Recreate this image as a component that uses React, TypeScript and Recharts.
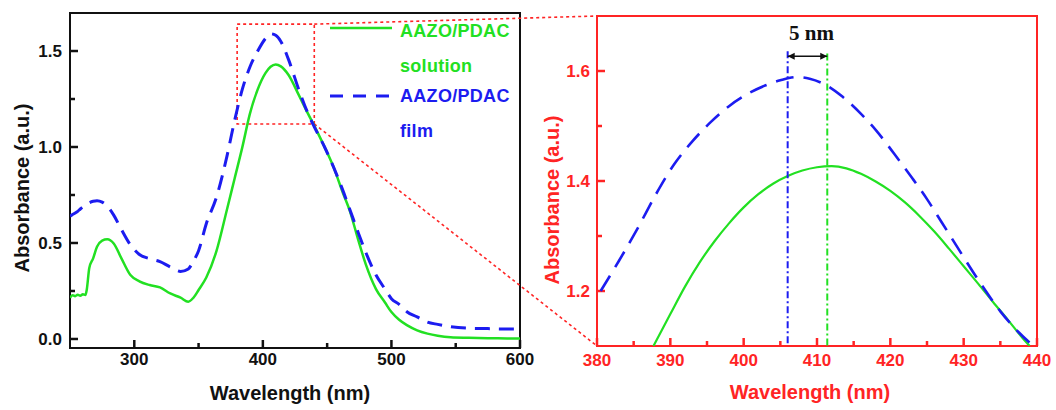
import React from "react";
import { LineChart, Line, XAxis, YAxis, ReferenceArea, ReferenceLine, Legend } from "recharts";

const GREEN = "#22e022";
const BLUE = "#1c1cf0";
const RED = "#ff2424";
const INK = "#111111";
const SANS = '"Liberation Sans", Arial, sans-serif';
const SERIF = '"Liberation Serif", "Times New Roman", serif';

// full spectrum (left panel)
const wavelengths = [
  250, 252, 254, 256, 258, 260, 262, 263, 265, 268,
  271, 275, 279, 284, 290, 297, 304, 312, 320, 328,
  336, 342, 346, 350, 356, 364, 372, 378, 384, 390,
  396, 402, 406, 410, 414, 420, 428, 435, 440, 448,
  455, 462, 468, 474, 480, 488, 495, 500, 506, 512,
  520, 528, 536, 546, 560, 575, 590, 600,
];
const solution = [
  0.215, 0.228, 0.223, 0.231, 0.225, 0.233, 0.229, 0.255, 0.37, 0.42,
  0.48, 0.512, 0.519, 0.497, 0.42, 0.333, 0.3, 0.281, 0.269, 0.237,
  0.215, 0.194, 0.215, 0.255, 0.32, 0.46, 0.672, 0.835, 0.998, 1.175,
  1.3, 1.385, 1.418, 1.43, 1.42, 1.375, 1.27, 1.175, 1.11, 1.0,
  0.895, 0.765, 0.66, 0.52, 0.39, 0.26, 0.19, 0.14, 0.1, 0.072,
  0.045, 0.028, 0.017, 0.009, 0.006, 0.004, 0.003, 0.002,
];
const film = [
  0.64, 0.648, 0.656, 0.665, 0.677, 0.688, 0.697, 0.703, 0.71, 0.717,
  0.72, 0.713, 0.692, 0.645, 0.57, 0.49, 0.44, 0.418, 0.403, 0.375,
  0.352, 0.365, 0.405, 0.46, 0.6, 0.74, 0.95, 1.137, 1.3, 1.418,
  1.5, 1.565, 1.59, 1.582, 1.55, 1.455, 1.298, 1.176, 1.105, 1.0,
  0.895, 0.778, 0.668, 0.557, 0.452, 0.333, 0.26, 0.21, 0.18, 0.142,
  0.115, 0.088, 0.076, 0.064, 0.056, 0.054, 0.052, 0.052,
];

// peak region as drawn in the magnified panel (right)
const zoomSolutionWl = [
  387.7, 390, 392, 394, 396, 398, 400, 402, 404, 406, 408, 410, 412, 414,
  416, 418, 420, 422, 424, 426, 428, 430, 432, 434, 436, 438, 439,
];
const zoomSolution = [
  1.1, 1.158, 1.208, 1.252, 1.29, 1.323, 1.352, 1.376, 1.395, 1.409, 1.419, 1.425, 1.427, 1.423,
  1.413, 1.399, 1.382, 1.361, 1.336, 1.308, 1.277, 1.245, 1.213, 1.18, 1.148, 1.115, 1.1,
];
const zoomFilmWl = [
  380.5, 383, 385.5, 388, 390.5, 393, 395.5, 398, 400.5, 403, 405, 407.3, 409,
  411, 413.5, 416, 418, 420.5, 423, 425, 427, 429.5, 432, 435, 437.5, 439.5,
];
const zoomFilm = [
  1.2, 1.255, 1.313, 1.375, 1.43, 1.472, 1.507, 1.536, 1.558, 1.574, 1.583, 1.589, 1.586,
  1.576, 1.553, 1.522, 1.493, 1.45, 1.405, 1.367, 1.325, 1.272, 1.22, 1.163, 1.125, 1.1,
];

const filmPeak = 406;
const solutionPeak = 411.4;

const seriesNames = ["AAZO/PDAC solution", "AAZO/PDAC film"];

const mainXTicks = [300, 350, 400, 450, 500, 550, 600];
const mainXMajor = [300, 400, 500, 600];
const mainYTicks = [0, 0.25, 0.5, 0.75, 1, 1.25, 1.5];
const mainYMajor = [0, 0.5, 1, 1.5];
const zoomXTicks = [380, 385, 390, 395, 400, 405, 410, 415, 420, 425, 430, 435, 440];
const zoomXMajor = [380, 390, 400, 410, 420, 430, 440];
const zoomYTicks = [1.2, 1.3, 1.4, 1.5, 1.6];
const zoomYMajor = [1.2, 1.4, 1.6];

// region of the left panel that is magnified
const boxX = [380, 440];
const boxY = [1.12, 1.64];

const MAIN_X = [250, 600];
const MAIN_Y = [-0.047, 1.698];
const ZOOM_X = [380, 440];
const ZOOM_Y = [1.1, 1.7];

const MAIN = { width: 600, height: 410, margin: { top: 13, right: 80, bottom: 22, left: 10 }, yW: 60, xH: 40 };
const ZOOM_LEFT = 530;
const ZOOM = { width: 526, height: 410, margin: { top: 16, right: 19, bottom: 24, left: 10 }, yW: 57, xH: 40 };
const TICK_MARGIN = 10;

// plot rectangles in page pixels
const mainPlot = {
  x: MAIN.margin.left + MAIN.yW,
  y: MAIN.margin.top,
  w: MAIN.width - MAIN.margin.left - MAIN.yW - MAIN.margin.right,
  h: MAIN.height - MAIN.margin.top - MAIN.margin.bottom - MAIN.xH,
};
const zoomPlot = {
  x: ZOOM_LEFT + ZOOM.margin.left + ZOOM.yW,
  y: ZOOM.margin.top,
  w: ZOOM.width - ZOOM.margin.left - ZOOM.yW - ZOOM.margin.right,
  h: ZOOM.height - ZOOM.margin.top - ZOOM.margin.bottom - ZOOM.xH,
};
// page pixel -> left panel data, for the connector lines
const toMainX = (px: number) => MAIN_X[0] + ((px - mainPlot.x) / mainPlot.w) * (MAIN_X[1] - MAIN_X[0]);
const toMainY = (py: number) => MAIN_Y[1] - ((py - mainPlot.y) / mainPlot.h) * (MAIN_Y[1] - MAIN_Y[0]);

const mainData = wavelengths.map((w, i) => ({ wavelength: w, solution: solution[i], film: film[i] }));
const zoomSolutionData = zoomSolutionWl.map((w, i) => ({ wavelength: w, value: zoomSolution[i] }));
const zoomFilmData = zoomFilmWl.map((w, i) => ({ wavelength: w, value: zoomFilm[i] }));

const isMajor = (v: number, majors: number[]) => majors.some((m) => Math.abs(m - v) < 1e-6);

// tick labels only; the tick marks are drawn as short reference segments
const makeTickLabel =
  (side: "bottom" | "left", color: string, majors: number[], gap: number) =>
  (props: any) => {
    const { x, y, payload } = props;
    const v = payload.value as number;
    if (!isMajor(v, majors)) return <g />;
    const label = side === "bottom" ? String(v) : v.toFixed(1);
    const textStyle = { fontFamily: SANS, fontWeight: 700, fontSize: 17, fill: color };
    if (side === "bottom") {
      const axisY = y - TICK_MARGIN;
      return (
        <text x={x} y={axisY + gap} dy="0.71em" textAnchor="middle" style={textStyle}>
          {label}
        </text>
      );
    }
    const axisX = x + TICK_MARGIN;
    return (
      <text x={axisX - gap} y={y} dy="0.35em" textAnchor="end" style={textStyle}>
        {label}
      </text>
    );
  };

// inward tick marks, long for labelled values and short for minor ones
function tickMarks(
  key: string,
  xTicks: number[],
  xMajor: number[],
  yTicks: number[],
  yMajor: number[],
  xDom: number[],
  yDom: number[],
  plot: { w: number; h: number },
  color: string
) {
  const dx = (xDom[1] - xDom[0]) / plot.w;
  const dy = (yDom[1] - yDom[0]) / plot.h;
  const len = (major: boolean) => (major ? 8 : 5);
  return [
    ...xTicks.map((v) => (
      <ReferenceLine
        key={`${key}x${v}`}
        segment={[{ x: v, y: yDom[0] }, { x: v, y: yDom[0] + len(isMajor(v, xMajor)) * dy }]}
        ifOverflow="visible"
        stroke={color}
        strokeWidth={2.5}
      />
    )),
    ...yTicks.map((v) => (
      <ReferenceLine
        key={`${key}y${v}`}
        segment={[{ x: xDom[0], y: v }, { x: xDom[0] + len(isMajor(v, yMajor)) * dx, y: v }]}
        ifOverflow="visible"
        stroke={color}
        strokeWidth={2.5}
      />
    )),
  ];
}

const titleStyle = (color: string) => ({ fontFamily: SANS, fontWeight: 700, fontSize: 20, fill: color });

const legendItems = [
  { name: seriesNames[0], color: GREEN, dash: undefined as string | undefined, width: 2.5 },
  { name: seriesNames[1], color: BLUE, dash: "13 10", width: 3 },
];

function SpectrumLegend() {
  return (
    <div style={{ fontFamily: SANS, fontWeight: 700, fontSize: 18 }}>
      {legendItems.map((item, i) => {
        const [first, ...rest] = item.name.split(" ");
        return (
          <div key={item.name} style={{ display: "flex", height: 65, color: item.color }}>
            <svg width={62} height={35} style={{ flex: "none", marginRight: 8 }}>
              <line x1={0} x2={62} y1={i === 0 ? 14 : 17} y2={i === 0 ? 14 : 17} stroke={item.color} strokeWidth={item.width} strokeDasharray={item.dash} />
            </svg>
            <div style={{ lineHeight: "35px", whiteSpace: "nowrap", letterSpacing: 0.3 }}>
              <div>{first}</div>
              <div>{rest.join(" ")}</div>
            </div>
          </div>
        );
      })}
    </div>
  );
}

function ShiftArrow(props: any) {
  const { x1, y1, x2, y2 } = props;
  const h = 7;
  const w = 3.5;
  return (
    <g>
      <line x1={x1} y1={y1} x2={x2} y2={y2} stroke={INK} strokeWidth={1.5} />
      <polygon points={`${x1},${y1} ${x1 + h},${y1 - w} ${x1 + h},${y1 + w}`} fill={INK} />
      <polygon points={`${x2},${y2} ${x2 - h},${y2 - w} ${x2 - h},${y2 + w}`} fill={INK} />
      <text
        x={(x1 + x2) / 2 + 4}
        y={y1 - 24}
        dy="0.35em"
        textAnchor="middle"
        style={{ fontFamily: SERIF, fontWeight: 700, fontSize: 21, fill: INK }}
      >
        {`${Math.round(solutionPeak - filmPeak)} nm`}
      </text>
    </g>
  );
}

export default function App() {
  return (
    <div style={{ position: "absolute", left: 0, top: 0, width: 1056, height: 410, background: "#fff", overflow: "hidden" }}>
      <div style={{ position: "absolute", left: 0, top: 0 }}>
        <LineChart width={MAIN.width} height={MAIN.height} data={mainData} margin={MAIN.margin}>
          <XAxis
            type="number"
            dataKey="wavelength"
            domain={MAIN_X}
            allowDataOverflow
            ticks={mainXTicks}
            interval={0}
            height={MAIN.xH}
            axisLine={false}
            tickLine={false}
            tickSize={0}
            tickMargin={TICK_MARGIN}
            tick={makeTickLabel("bottom", INK, mainXMajor, 5)}
            label={{
              content: () => (
                <text x={290} y={393} dy="0.35em" textAnchor="middle" style={titleStyle(INK)}>
                  Wavelength (nm)
                </text>
              ),
            }}
          />
          <YAxis
            type="number"
            domain={MAIN_Y}
            allowDataOverflow
            ticks={mainYTicks}
            interval={0}
            width={MAIN.yW}
            axisLine={false}
            tickLine={false}
            tickSize={0}
            tickMargin={TICK_MARGIN}
            tick={makeTickLabel("left", INK, mainYMajor, 8)}
            label={{
              content: () => (
                <text transform="translate(22,188) rotate(-90)" dy="0.35em" textAnchor="middle" style={titleStyle(INK)}>
                  Absorbance (a.u.)
                </text>
              ),
            }}
          />
          <ReferenceArea x1={MAIN_X[0]} x2={MAIN_X[1]} y1={MAIN_Y[0]} y2={MAIN_Y[1]} ifOverflow="visible" fill="none" stroke={INK} strokeWidth={2} />
          {tickMarks("m", mainXTicks, mainXMajor, mainYTicks, mainYMajor, MAIN_X, MAIN_Y, mainPlot, INK)}
          <ReferenceArea x1={boxX[0]} x2={boxX[1]} y1={boxY[0]} y2={boxY[1]} ifOverflow="visible" fill="none" stroke={RED} strokeWidth={1.6} strokeDasharray="3 3" />
          <ReferenceLine
            segment={[{ x: boxX[1], y: boxY[1] }, { x: toMainX(zoomPlot.x), y: toMainY(zoomPlot.y) }]}
            ifOverflow="visible"
            stroke={RED}
            strokeWidth={1.6}
            strokeDasharray="3 3"
          />
          <ReferenceLine
            segment={[{ x: boxX[1], y: boxY[0] }, { x: toMainX(zoomPlot.x), y: toMainY(zoomPlot.y + zoomPlot.h) }]}
            ifOverflow="visible"
            stroke={RED}
            strokeWidth={1.6}
            strokeDasharray="3 3"
          />
          <Line type="monotone" dataKey="solution" name={seriesNames[0]} stroke={GREEN} strokeWidth={2.5} dot={false} isAnimationActive={false} />
          <Line type="monotone" dataKey="film" name={seriesNames[1]} stroke={BLUE} strokeWidth={3} strokeDasharray="15 9" dot={false} isAnimationActive={false} />
          <Legend
            layout="horizontal"
            verticalAlign="middle"
            align="center"
            content={() => <SpectrumLegend />}
            wrapperStyle={{ left: 330, top: 14, width: 200, height: 140 }}
          />
        </LineChart>
      </div>

      <div style={{ position: "absolute", left: ZOOM_LEFT, top: 0 }}>
        <LineChart width={ZOOM.width} height={ZOOM.height} margin={ZOOM.margin}>
          <XAxis
            type="number"
            dataKey="wavelength"
            domain={ZOOM_X}
            allowDataOverflow
            ticks={zoomXTicks}
            interval={0}
            height={ZOOM.xH}
            axisLine={false}
            tickLine={false}
            tickSize={0}
            tickMargin={TICK_MARGIN}
            tick={makeTickLabel("bottom", RED, zoomXMajor, 8)}
            label={{
              content: () => (
                <text x={280} y={392} dy="0.35em" textAnchor="middle" style={titleStyle(RED)}>
                  Wavelength (nm)
                </text>
              ),
            }}
          />
          <YAxis
            type="number"
            dataKey="value"
            domain={ZOOM_Y}
            allowDataOverflow
            ticks={zoomYTicks}
            interval={0}
            width={ZOOM.yW}
            axisLine={false}
            tickLine={false}
            tickSize={0}
            tickMargin={TICK_MARGIN}
            tick={makeTickLabel("left", RED, zoomYMajor, 7)}
            label={{
              content: () => (
                <text transform="translate(22,200) rotate(-90)" dy="0.35em" textAnchor="middle" style={titleStyle(RED)}>
                  Absorbance (a.u.)
                </text>
              ),
            }}
          />
          <ReferenceArea x1={ZOOM_X[0]} x2={ZOOM_X[1]} y1={ZOOM_Y[0]} y2={ZOOM_Y[1]} ifOverflow="visible" fill="none" stroke={RED} strokeWidth={2} />
          {tickMarks("z", zoomXTicks, zoomXMajor, zoomYTicks, zoomYMajor, ZOOM_X, ZOOM_Y, zoomPlot, RED)}
          <Line data={zoomSolutionData} type="monotone" dataKey="value" name={seriesNames[0]} stroke={GREEN} strokeWidth={2.2} dot={false} isAnimationActive={false} />
          <Line data={zoomFilmData} type="monotone" dataKey="value" name={seriesNames[1]} stroke={BLUE} strokeWidth={2.6} strokeDasharray="18 10" dot={false} isAnimationActive={false} />
          <ReferenceLine
            segment={[{ x: filmPeak, y: 1.636 }, { x: filmPeak, y: ZOOM_Y[0] }]}
            ifOverflow="visible"
            stroke={BLUE}
            strokeWidth={2}
            strokeDasharray="7 3 2 3"
          />
          <ReferenceLine
            segment={[{ x: solutionPeak, y: 1.632 }, { x: solutionPeak, y: ZOOM_Y[0] }]}
            ifOverflow="visible"
            stroke={GREEN}
            strokeWidth={2}
            strokeDasharray="7 3 2 3"
          />
          <ReferenceLine
            segment={[{ x: filmPeak, y: 1.627 }, { x: solutionPeak, y: 1.627 }]}
            ifOverflow="visible"
            shape={(p: any) => <ShiftArrow {...p} />}
          />
        </LineChart>
      </div>
    </div>
  );
}
